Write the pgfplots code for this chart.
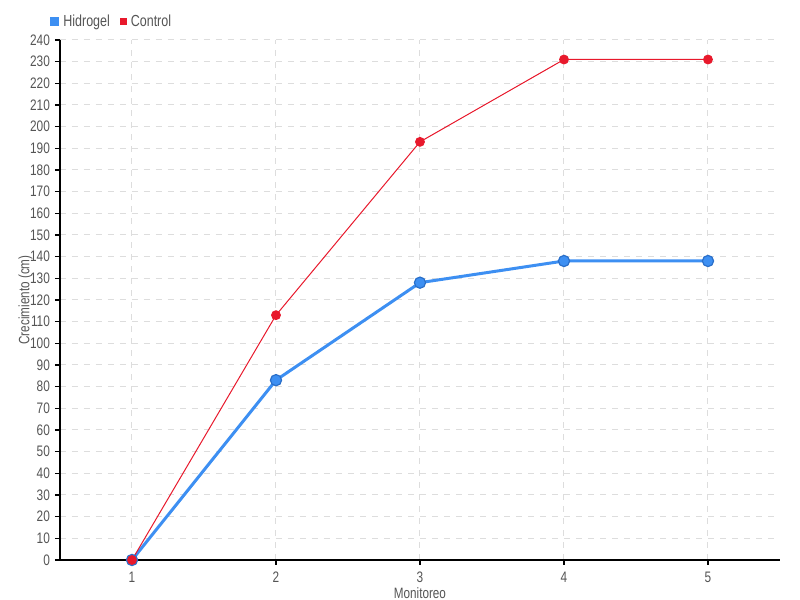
\documentclass[border=0pt]{standalone}
\usepackage{pgfplots}
\pgfplotsset{compat=1.18}
\usepackage{fontspec}
\setmainfont[FakeStretch=0.78]{Liberation Sans}
\definecolor{hblue}{HTML}{3D8FF2}
\definecolor{hblueD}{HTML}{2A6FC9}
\definecolor{cred}{HTML}{E8192C}
\definecolor{txt}{HTML}{555555}
\definecolor{gridc}{HTML}{DDDDDD}
\begin{document}
\begin{tikzpicture}
\useasboundingbox (-30pt,-20pt) rectangle (370pt,280pt);
\begin{axis}[
  at={(0,0)}, anchor=origin,
  scale only axis, width=360pt, height=260pt,
  xmin=0.5, xmax=5.5, ymin=0, ymax=240,
  xtick={1,2,3,4,5}, ytick={0,10,...,240},
  axis x line*=bottom, axis y line*=left,
  axis line style={black, line width=0.6pt, -},
  tick style={black, line width=0.6pt},
  tick align=outside, major tick length=2.5pt,
  grid=major,
  major grid style={gridc, dashed, line width=0.5pt},
  tick label style={font=\fontsize{7.6}{9}\selectfont, text=txt},
  yticklabel style={xshift=1pt},
  /pgf/number format/assume math mode=true,
  xlabel={Monitoreo}, ylabel={Crecimiento (cm)},
  label style={font=\fontsize{7.5}{9}\selectfont, text=txt},
  xlabel style={yshift=4.5pt},
  ylabel style={yshift=-8pt},
  legend style={at={(-5pt,269pt)}, anchor=west, draw=none, fill=none,
    font=\fontsize{8}{9}\selectfont, text=txt, inner sep=0pt,
    /tikz/every even column/.append style={column sep=3pt}},
  legend columns=2,
  legend image code/.code={\fill[#1] (0pt,-1.5pt) rectangle (3pt,1.5pt);},
  legend cell align=left,
  clip=false,
]
\addplot[hblue, line width=1.5pt, mark=*, mark size=2.8pt,
  mark options={fill=hblue, draw=hblueD, line width=0.6pt}]
  coordinates {(1,0) (2,83) (3,128) (4,138) (5,138)};
\addlegendentry{Hidrogel}
\addplot[cred, line width=0.5pt, mark=*, mark size=2.2pt,
  mark options={fill=cred, draw=cred}]
  coordinates {(1,0) (2,113) (3,193) (4,231) (5,231)};
\addlegendentry{Control}
\end{axis}
\end{tikzpicture}
\end{document}
